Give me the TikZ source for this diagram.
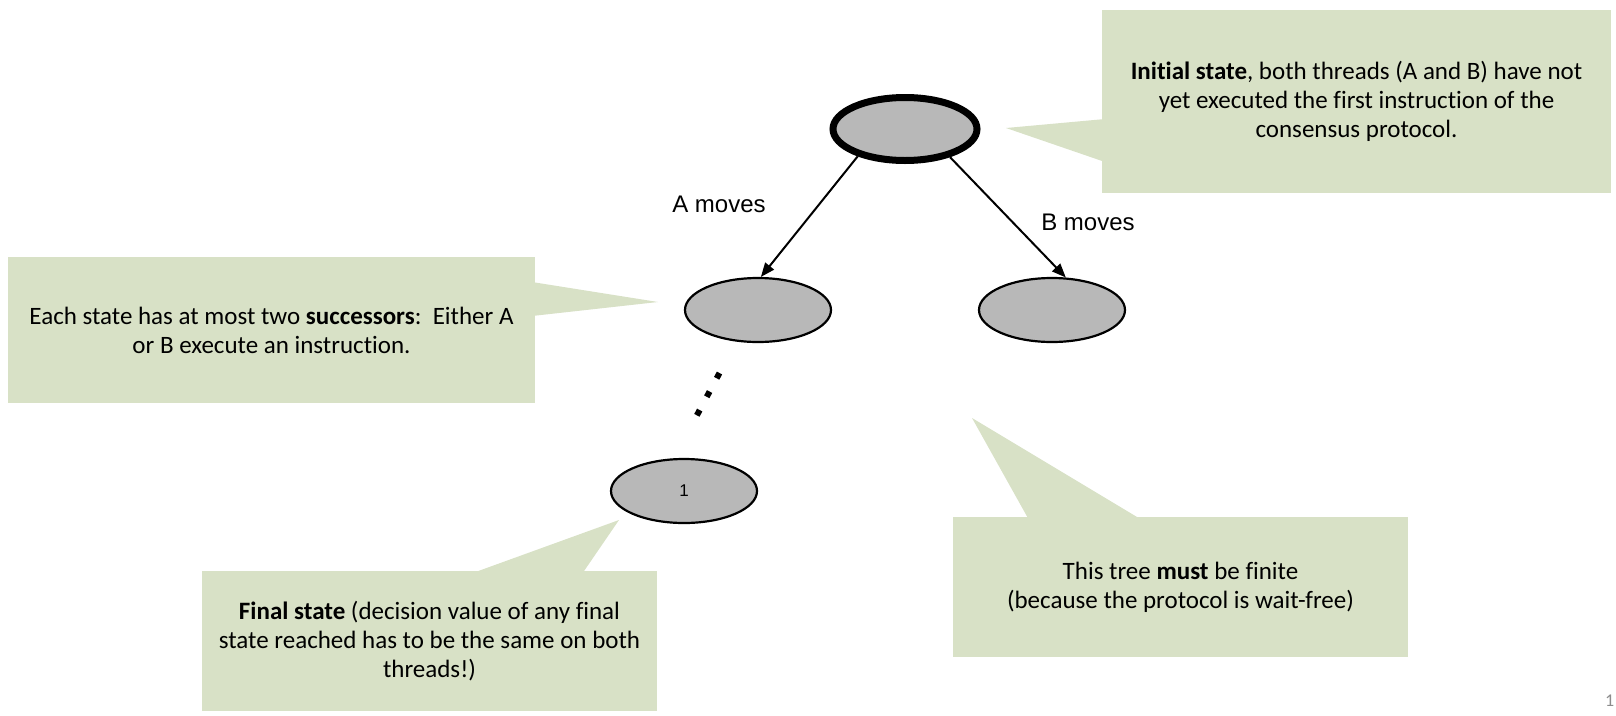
\documentclass[tikz,border=0pt]{standalone}
\usepackage{fontspec}
\usepackage{tikz}
\usetikzlibrary{arrows.meta,shapes.geometric}
\newfontfamily\calibri[Ligatures={NoCommon}]{Carlito}
\newfontfamily\arial{Liberation Sans}
\definecolor{notegreen}{RGB}{216,225,198}
\definecolor{stategray}{RGB}{184,184,184}
\definecolor{pagegray}{RGB}{140,140,140}

\begin{document}
\begin{tikzpicture}[x=1pt,y=-1pt,
    state/.style={ellipse,draw=black,fill=stategray,line width=2.2pt,
      minimum width=146pt,minimum height=64pt,inner sep=0pt,
      font=\arial\fontsize{17}{20}\selectfont},
    initstate/.style={state,line width=7pt,minimum width=144pt,minimum height=63pt},
    note/.style={rectangle,fill=notegreen,inner sep=0pt,align=center,
      font=\calibri\fontsize{25}{29}\selectfont},
    move/.style={font=\arial\fontsize{24}{28}\selectfont},
    edge/.style={-{Triangle[length=14pt,width=11pt]},line width=2pt}]
  \useasboundingbox (0,0) rectangle (1616,715);

  % callout pointers
  \fill[notegreen] (1105,119) -- (1006,128) -- (1105,162) -- cycle;
  \fill[notegreen] (532,282) -- (658,302) -- (532,316) -- cycle;
  \fill[notegreen] (470,574) -- (619,520) -- (582,574) -- cycle;
  \fill[notegreen] (1029,520) -- (972,418) -- (1142,520) -- cycle;

  % callouts
  \node[note,minimum width=509pt,minimum height=183pt] (initnote) at (1356.5,101.5)
    {\textbf{Initial state}, both threads (A and B) have not\\
     yet executed the first instruction of the\\ consensus protocol.};
  \node[note,minimum width=527pt,minimum height=146pt] (succnote) at (271.5,330)
    {Each state has at most two \textbf{successors}:\ \ Either A\\
     or B execute an instruction.};
  \node[note,minimum width=455pt,minimum height=140pt] (finalnote) at (429.5,641)
    {\textbf{Final state} (decision value of any final\\
     state reached has to be the same on both\\ threads!)};
  \node[note,minimum width=455pt,minimum height=140pt] (finitenote) at (1180.5,587)
    {This tree \textbf{must} be finite\\ (because the protocol is wait-free)};

  % states
  \node[initstate] (init) at (905,129) {};
  \node[state] (amove) at (758,310) {};
  \node[state] (bmove) at (1052,310) {};
  \node[state] (final) at (684,491) {1};

  \draw[edge] (init.210) -- (amove.85);
  \draw[edge] (init.-32) -- (bmove.67);
  \node[move] (alabel) at (719,204) {A moves};
  \node[move] (blabel) at (1088,222) {B moves};

  % more states below
  \draw[line width=6pt,dash pattern=on 6pt off 15pt] (719.5,373) -- (696.5,416);

  \node[anchor=west,inner sep=0pt,text=pagegray,font=\calibri\fontsize{18}{20}\selectfont]
    (pagenum) at (1605,701) {1};
\end{tikzpicture}
\end{document}
